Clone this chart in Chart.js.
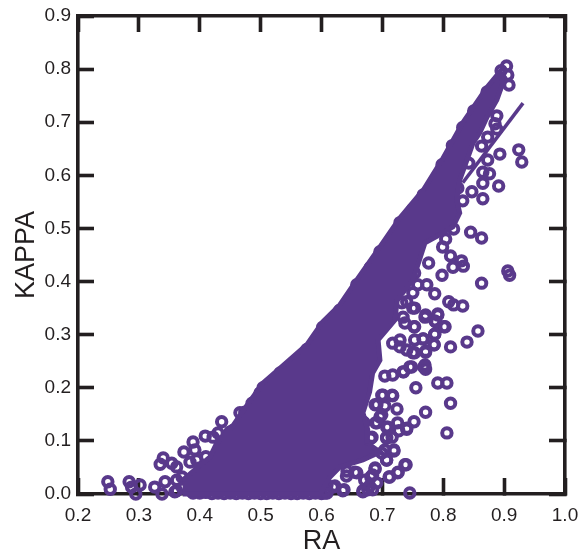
<!DOCTYPE html>
<html>
<head>
<meta charset="utf-8">
<style>
  html, body { margin: 0; padding: 0; background: #fff; }
  canvas { display: block; }
</style>
<script src="https://cdn.jsdelivr.net/npm/chart.js@4/dist/chart.umd.min.js"></script>
</head>
<body>
<canvas id="chart" width="588" height="556"></canvas>
<script>
// --- values ---
const xTicks = [0.2, 0.3, 0.4, 0.5, 0.6, 0.7, 0.8, 0.9, 1.0];
const yTicks = [0.0, 0.1, 0.2, 0.3, 0.4, 0.5, 0.6, 0.7, 0.8, 0.9];

// separate circles, the ones that can be told apart
const ringX = [.904,.895,.906,.908,.888,.885,.888,.863,.873,.893,.924,.929,.873,.842,.865,.876,.865,.891,.847,.824,.865,.832,
  .817,.845,.863,.804,.799,.776,.812,.830,.833,.816,.798,.753,.906,.909,
  .863,.786,.773,.809,.817,.832,.791,.771,.753,.786,.801,.753,.857,.786,.767,.839,.785,.812,.771,.750,.770,.771,.745,.735,.717,.704,
  .791,.806,.755,.812,.771,.724,.717,.701,.704,.691,.752,.696,.670,.689,.725,.740,.707,.806,.727,.707,.681,.719,.699,.707,.676,
  .737,.726,.711,.688,.681,.655,.641,.691,.676,.668,.745,.637,.606,.619,
  .249,.253,.284,.288,.302,.295,.326,.343,.338,.340,.335,.354,.362,.362,.374,.389,.395,.409,.410,.436,.455,.486,.474,.499,.430,.389,.609,
  .392,.384,.400,.362,.371,.422,.450,.466,
  .688,.699,.716,.668,.699,.691,.709,.740,.707,.716,.683,.719,.704,.707,.739,.725,.712,.688,.684,.671,.679,.668,.684,.635,.622,.606,.609,.642,.658,
  .758,.750,.770,.791,.788,.803,.752,.737,.786,.767,.785,.753,.771,.753,.740,.768,.748,.734,.729,.717,.729,.734,.732,.740,.750,
  .359,.372,.895,.885,.878,.870];
const ringY = [.806,.797,.789,.770,.712,.697,.687,.655,.672,.640,.648,.625,.629,.623,.606,.603,.585,.580,.569,.576,.556,.552,
  .499,.493,.482,.480,.465,.435,.448,.439,.429,.427,.412,.416,.420,.412,
  .397,.377,.394,.362,.356,.354,.339,.337,.350,.326,.315,.315,.307,.301,.292,.286,.281,.277,.269,.266,.243,.235,.239,.230,.224,.222,
  .209,.209,.200,.171,.154,.160,.185,.186,.166,.168,.136,.145,.134,.134,.134,.122,.126,.115,.119,.105,.105,.081,.077,.064,.079,
  .055,.041,.032,.047,.032,.041,.034,.021,.008,.006,.002,.008,.002,.013,
  .023,.009,.023,.013,.017,.000,.013,.023,.000,.068,.056,.058,.006,.026,.079,.098,.064,.109,.070,.136,.120,.171,.154,.190,.115,.002,.002,
  .083,.060,.049,.051,.032,.107,.117,.153,
  .168,.186,.186,.136,.149,.134,.126,.124,.107,.107,.107,.083,.083,.064,.055,.040,.032,.049,.036,.026,.015,.004,.008,.006,.015,.006,.017,.043,.040,
  .394,.350,.333,.337,.324,.315,.315,.322,.301,.292,.281,.290,.267,.266,.271,.239,.239,.230,.290,.284,.277,.333,.360,.362,.379,
  .004,.011,.780,.765,.745,.730];

// circles packed along the x axis, under the solid part
const baseX = [.39,.40,.41,.42,.43,.44,.45,.46,.47,.48,.49,.50,.51,.52,.53,.54,.55,.56,.57,.58,.59,.60];
const baseY = [.004,.002,.003,.001,.002,.001,.002,.001,.002,.001,.002,.001,.001,.002,.001,.002,.001,.001,.002,.001,.002,.001];

// circles that make the bumps on the upper edge of the solid part
const edgeX = [.504,.532,.555,.576,.602,.630,.658,.680,.696,.729,.750,.767,.798,.815,.832,.850,.872];
const edgeY = [.200,.228,.246,.272,.314,.346,.394,.426,.456,.511,.536,.563,.620,.656,.690,.721,.757];

// outline of the solid part: upper edge going right, then lower edge coming back
const massX = [.372,.417,.428,.453,.469,.504,.532,.576,.602,.630,.658,.696,.729,.767,.798,.832,.872,.893,
  .898,.888,.872,.860,.849,.839,.827,.822,.827,.816,.794,.770,.757,.750,.724,.721,.693,.696,.684,.679,.668,.676,.675,.696,.668,.630,.614,.597,.372];
const massY = [.026,.070,.096,.126,.153,.209,.237,.281,.324,.356,.403,.465,.520,.572,.629,.699,.766,.795,
  .774,.742,.710,.680,.661,.629,.591,.554,.529,.503,.488,.473,.427,.403,.365,.328,.290,.252,.228,.192,.153,.121,.096,.079,.064,.051,.032,.000,.000];

// straight fit line, its visible part
const fitX = [.832, .931];
const fitY = [.586, .736];

const purple = '#59398b';
const ink = '#231f20';
const FONT = '"Liberation Sans", Arial, sans-serif';

function toPoints(xs, ys) {
    return xs.map((x, i) => ({ x: x, y: ys[i] }));
}

function ringSet(xs, ys) {
    return {
        type: 'scatter',
        data: toPoints(xs, ys),
        pointRadius: 4.7,
        pointBorderWidth: 4,
        pointBorderColor: purple,
        pointBackgroundColor: 'rgba(0,0,0,0)',
        showLine: false,
        clip: false,
        order: 2
    };
}

// frame and inward ticks are the same on all four sides
function axisBase(position, min, max, width, height, labels) {
    return {
        type: 'linear',
        position: position,
        min: min,
        max: max,
        afterBuildTicks: scale => { scale.ticks = labels.map(v => ({ value: v })); },
        afterFit: scale => {
            if (width !== null) scale.width = width;
            if (height !== null) scale.height = height;
            // tick padding would otherwise push the plot area in
            scale.paddingLeft = scale.paddingRight = scale.paddingTop = scale.paddingBottom = 0;
        },
        border: { display: true, width: 3.6, color: ink },
        grid: { drawOnChartArea: false, drawTicks: true, tickLength: -16, tickWidth: 3.6, tickColor: ink },
        ticks: { display: false }
    };
}

const xAxis = axisBase('bottom', 0.2, 1.0, null, 62, xTicks);
xAxis.ticks = { display: true, maxRotation: 0, autoSkip: false, padding: 26, color: ink,
    font: { family: FONT, size: 19 }, callback: v => v.toFixed(1) };
xAxis.title = { display: true, text: 'RA', color: ink, padding: { top: 0, bottom: -2 },
    font: { family: FONT, size: 27 } };

const yAxis = axisBase('left', 0, 0.9, 78, null, yTicks);
yAxis.ticks = { display: true, autoSkip: false, padding: 23, color: ink,
    font: { family: FONT, size: 19 }, callback: v => v.toFixed(1) };
yAxis.title = { display: true, text: 'KAPPA', color: ink, padding: { top: 10, bottom: 0 },
    font: { family: FONT, size: 27 } };

new Chart(document.getElementById('chart'), {
    type: 'scatter',
    data: {
        datasets: [
            {
                // solid part
                type: 'scatter',
                data: toPoints(massX, massY),
                showLine: true,
                pointRadius: 0,
                borderWidth: 5,
                borderColor: purple,
                backgroundColor: purple,
                fill: 'shape',
                clip: false,
                order: 1
            },
            {
                type: 'scatter',
                data: toPoints(fitX, fitY),
                showLine: true,
                pointRadius: 0,
                borderWidth: 3.6,
                borderColor: purple,
                clip: false,
                order: 1
            },
            ringSet(ringX, ringY),
            ringSet(baseX, baseY),
            ringSet(edgeX, edgeY)
        ]
    },
    options: {
        responsive: false,
        animation: false,
        layout: { padding: 0 },
        plugins: { legend: { display: false }, tooltip: { enabled: false } },
        scales: {
            x: xAxis,
            y: yAxis,
            x2: axisBase('top', 0.2, 1.0, null, 16, xTicks),
            y2: axisBase('right', 0, 0.9, 23, null, yTicks)
        }
    }
});
</script>
</body>
</html>
